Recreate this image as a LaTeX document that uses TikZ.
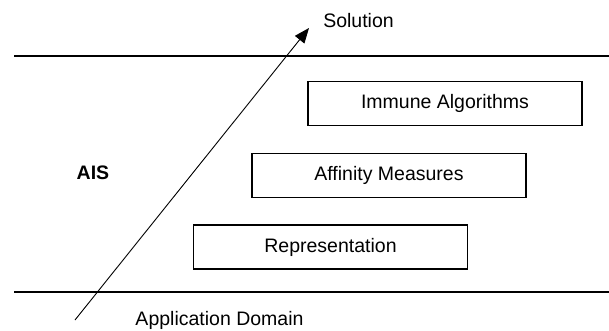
\documentclass[tikz,border=0pt]{standalone}
\usepackage{fontspec}
\setmainfont{Liberation Sans}
\usetikzlibrary{arrows.meta}
\begin{document}
\begin{tikzpicture}[x=1pt,y=-1pt,
  every node/.style={font=\fontsize{19.5}{23}\selectfont, inner sep=0pt},
  layerbox/.style={draw, line width=1.2pt, minimum width=274pt, minimum height=44pt},
  sepline/.style={line width=1.3pt},
  flow/.style={line width=0.9pt, -{Triangle[length=15pt,width=12pt]}}]
\useasboundingbox (0,0) rectangle (609,331);
\coordinate (tl) at (14,56);
\coordinate (tr) at (609,56);
\coordinate (bl) at (14,292);
\coordinate (br) at (609,292);
\draw[sepline] (tl) -- (tr);
\draw[sepline] (bl) -- (br);
\node[layerbox] (immune) at (445,103.5) {Immune Algorithms};
\node[layerbox] (affinity) at (389,175.5) {Affinity Measures};
\node[layerbox] (repr) at (330.5,247) {Representation};
\node[font=\fontsize{19.5}{23}\selectfont\bfseries] (ais) at (93,173) {AIS};
\node (sol) at (358.5,21) {Solution};
\node (app) at (219.5,320) {Application Domain};
\coordinate (start) at (75,320);
\coordinate (tip) at (309,28);
\draw[flow] (start) -- (tip);
\end{tikzpicture}
\end{document}
